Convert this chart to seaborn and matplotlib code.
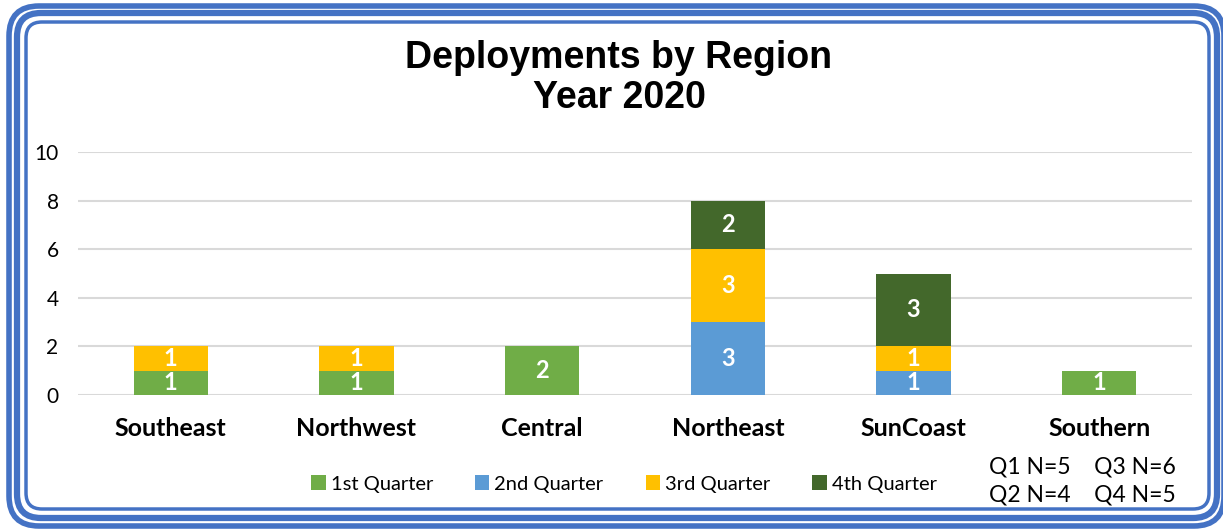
import matplotlib
matplotlib.use("Agg")
import matplotlib.pyplot as plt
from matplotlib.patches import FancyBboxPatch, Patch
import seaborn as sns
import numpy as np

regions = ["Southeast", "Northwest", "Central", "Northeast", "SunCoast", "Southern"]
quarters = ["1st Quarter", "2nd Quarter", "3rd Quarter", "4th Quarter"]
q1 = [1, 1, 2, 0, 0, 1]
q2 = [0, 0, 0, 3, 1, 0]
q3 = [1, 1, 0, 3, 1, 0]
q4 = [0, 0, 0, 2, 3, 0]
counts = [q1, q2, q3, q4]
colors = ["#70AD47", "#5B9BD5", "#FFC000", "#43682B"]
n_text = ["Q1 N=5    Q3 N=6", "Q2 N=4    Q4 N=5"]
title = "Deployments by Region\nYear 2020"

W, H = 1223, 529
fig = plt.figure(figsize=(W / 100, H / 100), dpi=100)
fig.patch.set_facecolor("white")

# triple rounded frame
def frame(x0, y0, x1, y1, lw, r):
    p = FancyBboxPatch((x0 / W, 1 - y1 / H), (x1 - x0) / W, (y1 - y0) / H,
                       boxstyle="round,pad=0,rounding_size=%f" % (r / W),
                       transform=fig.transFigure, fill=False,
                       edgecolor="#4472C4", linewidth=lw, mutation_aspect=W / H)
    fig.patches.append(p)

frame(9, 6, 1224, 526, 4, 30)
frame(17, 13, 1217, 518, 4.5, 24)
frame(26, 22, 1209, 509, 2.5, 16)

ax = fig.add_axes([78 / W, 1 - 395 / H, (1192 - 78) / W, (395 - 152) / H])

bottom = np.zeros(len(regions))
for vals, c in zip(counts, colors):
    sns.barplot(x=regions, y=vals, order=regions, bottom=bottom, color=c,
                width=0.4, errorbar=None, saturation=1, ax=ax, zorder=3)
    bottom += np.array(vals)

for cont in ax.containers:
    labs = [str(int(b.get_height())) if b.get_height() > 0 else "" for b in cont]
    ax.bar_label(cont, labels=labs, label_type="center", color="white",
                 fontweight="bold", fontsize=17, family="Lato")

ax.set_ylim(0, 10)
ax.set_xlim(-0.5, 5.5)
ax.set_yticks(range(0, 11, 2))
ax.grid(axis="y", color="#D9D9D9", linewidth=1.5, zorder=0)
ax.set_axisbelow(True)
for s in ax.spines.values():
    s.set_visible(False)
ax.tick_params(length=0)
ax.tick_params(axis="y", labelsize=15, pad=14)
ax.tick_params(axis="x", labelsize=18, pad=16)
for t in ax.get_yticklabels():
    t.set_family("Lato")
for t in ax.get_xticklabels():
    t.set_family("Lato")
    t.set_fontweight("bold")
ax.set_xlabel("")
ax.set_ylabel("")
ax.set_facecolor("none")

fig.text(619 / W, 1 - 78 / H, title, ha="center", va="center", fontsize=27,
         fontweight="bold", family="Liberation Sans", linespacing=1.15)

handles = [Patch(facecolor=c, edgecolor="none") for c in colors]
fig.legend(handles, quarters, loc="center", bbox_to_anchor=(624 / W, 1 - 484 / H),
           ncol=4, frameon=False, handlelength=0.7, handleheight=0.7,
           handletextpad=0.25, columnspacing=2.1, prop={"family": "Lato", "size": 14.5})

fig.text(1082 / W, 1 - 467 / H, n_text[0], ha="center", va="center", fontsize=16.5,
         family="Lato")
fig.text(1082 / W, 1 - 495 / H, n_text[1], ha="center", va="center", fontsize=16.5,
         family="Lato")

fig.savefig("out.png", dpi=100)
